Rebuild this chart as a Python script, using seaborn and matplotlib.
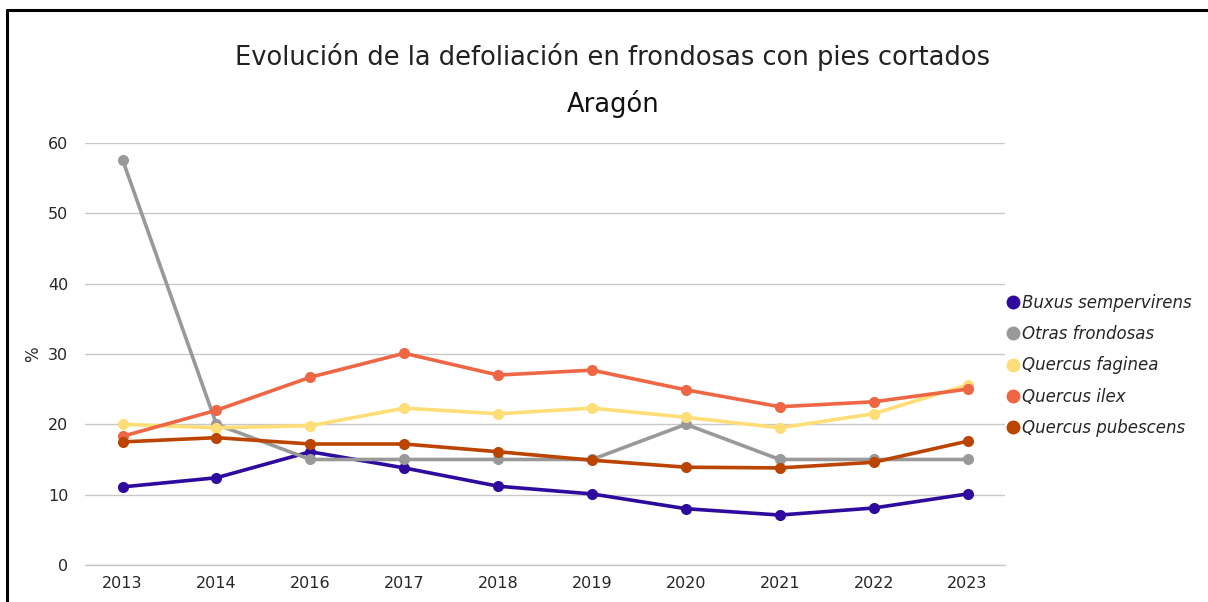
import pandas as pd
import numpy as np
import matplotlib.pyplot as plt
import seaborn as sns
from matplotlib.lines import Line2D

years = ['2013', '2014', '2016', '2017', '2018', '2019', '2020', '2021', '2022', '2023']

buxus = [11.1, 12.4, 16.1, 13.8, 11.2, 10.1, 8.0, 7.1, 8.1, 10.1]
otras = [57.6, 20.0, 15.0, 15.0, 15.0, 15.0, 20.0, 15.0, 15.0, 15.0]
faginea = [20.0, 19.5, 19.8, 22.3, 21.5, 22.3, 21.0, 19.5, 21.5, 25.6]
ilex = [18.3, 22.0, 26.7, 30.1, 27.0, 27.7, 24.9, 22.5, 23.2, 25.0]
pubescens = [17.5, 18.1, 17.2, 17.2, 16.1, 14.9, 13.9, 13.8, 14.6, 17.6]

species = ['Buxus sempervirens', 'Otras frondosas', 'Quercus faginea', 'Quercus ilex', 'Quercus pubescens']
colors = ['#2e0a9e', '#999999', '#ffdd77', '#ee6644', '#bb4400']

df = pd.DataFrame({'Año': years, species[0]: buxus, species[1]: otras,
                   species[2]: faginea, species[3]: ilex, species[4]: pubescens})
df_long = df.melt(id_vars='Año', var_name='Especie', value_name='Valor')

sns.set_style('white')
plt.rcParams['font.family'] = ['DejaVu Sans']

fig = plt.figure(figsize=(12.08, 6.02), dpi=100)
ax = fig.add_axes([0.0704, 0.0615, 0.7616, 0.701])

sns.lineplot(data=df_long, x='Año', y='Valor', hue='Especie', palette=colors,
             marker='o', markersize=8, markeredgewidth=0, linewidth=2.6,
             sort=False, ax=ax, legend=False)

ax.set_ylim(0, 60)
ax.set_xlim(-0.4, len(years) - 0.6)
ax.set_yticks(range(0, 61, 10))
ax.yaxis.grid(True, color='#c8c8c8', linewidth=1)
ax.axhline(0, color='#c8c8c8', linewidth=1, clip_on=False, zorder=0)
ax.set_axisbelow(True)
for s in ax.spines.values():
    s.set_visible(False)
ax.tick_params(axis='both', length=0, labelsize=11.5, pad=8)
ax.tick_params(axis='y', pad=12)
ax.set_xlabel('')
ax.set_ylabel('%', fontsize=12, labelpad=4)

fig.text(0.5075, 0.905, 'Evolución de la defoliación en frondosas con pies cortados',
         ha='center', va='center', fontsize=18.5, color='#222222')
fig.text(0.5075, 0.828, 'Aragón', ha='center', va='center', fontsize=18.5,
         color='#111111', fontweight='medium')

handles = [Line2D([], [], marker='o', linestyle='', markersize=9, color=c) for c in colors]
fig.legend(handles, species, loc='upper left', bbox_to_anchor=(0.826, 0.523),
           frameon=False, prop={'style': 'italic', 'size': 12},
           handletextpad=0.05, labelspacing=0.8, handlelength=1.0, borderaxespad=0)

# outer frame
fig.add_artist(Line2D([7 / 1208, 7 / 1208], [0, 1 - 10 / 602], transform=fig.transFigure, color='black', linewidth=2.2))
fig.add_artist(Line2D([7 / 1208, 1], [1 - 10 / 602, 1 - 10 / 602], transform=fig.transFigure, color='black', linewidth=2.2))

plt.savefig('out.png', dpi=100)
plt.close()
